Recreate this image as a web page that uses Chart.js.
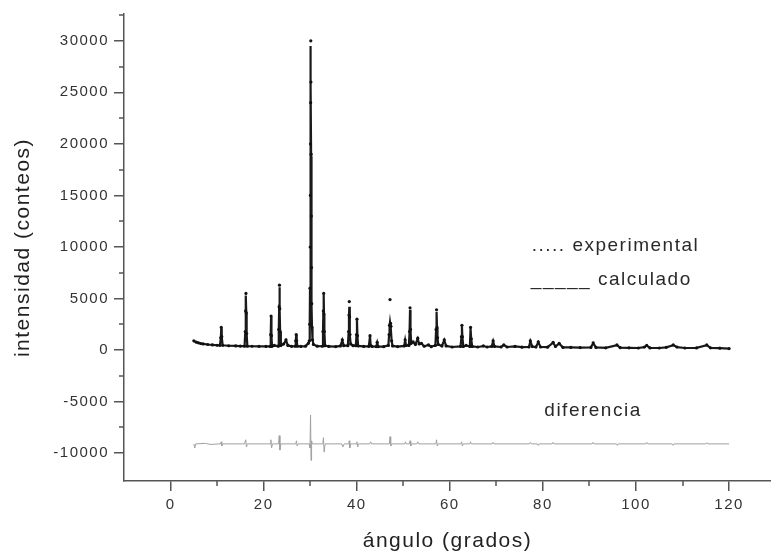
<!DOCTYPE html>
<html>
<head>
<meta charset="utf-8">
<script src="https://cdn.jsdelivr.net/npm/chart.js@4"></script>
<style>
  html, body { margin: 0; padding: 0; background: #fff; }
  #wrap { width: 771px; height: 554px; }
</style>
</head>
<body>
<div id="wrap"><canvas id="xrd-chart" width="771" height="554"></canvas></div>
<script>
// diffraction angle (2theta, degrees)
const angles = [
  5.0, 5.5, 6.0, 6.5, 7.0, 8.0, 9.0, 10.0,
  10.6, 10.8, 10.9, 11.0, 11.2,
  12.5, 14.0, 15.0, 15.9,
  16.05, 16.12, 16.2, 16.28, 16.35, 16.5,
  17.5, 19.0, 20.5, 21.4,
  21.52, 21.6, 21.68, 21.8,
  22.3, 23.1,
  23.25, 23.33, 23.4, 23.47, 23.55, 23.7,
  24.3, 24.8, 25.2, 26.0, 26.8,
  26.9, 27.0, 27.1, 27.25,
  28.0, 29.0, 29.6, 29.8, 29.9, 29.96,
  30.0, 30.04, 30.07, 30.1, 30.13, 30.16, 30.2, 30.24, 30.28, 30.33, 30.4, 30.5, 30.7,
  31.5, 32.6,
  32.75, 32.83, 32.9, 32.97, 33.05, 33.2,
  34.0, 35.5, 36.5, 36.9, 37.2, 38.1,
  38.25, 38.33, 38.4, 38.47, 38.55, 38.7,
  39.2, 39.8, 39.95, 40.05, 40.15, 40.3,
  41.5, 42.6, 42.85, 43.0, 43.3,
  44.2, 44.4, 44.6, 45.8, 46.8,
  46.95, 47.05, 47.15, 47.25, 47.35, 47.5, 47.7,
  48.8, 50.2, 50.4, 50.6, 51.2,
  51.35, 51.45, 51.55, 51.7,
  52.1, 52.6, 53.1, 53.4, 53.9, 54.5, 55.4, 56.0, 56.9,
  57.05, 57.15, 57.25, 57.35, 57.5,
  58.3, 58.8, 59.2, 60.5, 62.3,
  62.5, 62.6, 62.7, 62.9,
  63.5, 64.3, 64.45, 64.6, 64.8,
  66.0, 67.2, 68.0, 69.0, 69.3, 69.6,
  71.0, 71.6, 72.3, 74.0, 75.5, 77.0, 77.3, 77.7, 78.5, 79.0, 79.5,
  81.0, 82.2, 82.7, 83.5, 84.3, 86.0, 88.0,
  90.3, 90.8, 91.4, 93.5, 95.9, 96.6, 98.5, 100.5,
  101.8, 102.3, 103.0, 105.0, 106.5, 108.0, 108.8, 110.5,
  113.0, 115.2, 116.0, 118.0, 120.0
];

// measured counts (dots)
const experimental = [
  900, 780, 700, 640, 600, 540, 500, 470,
  460, 1200, 2200, 1300, 460,
  420, 400, 390, 380,
  1800, 3800, 5500, 3600, 1600, 380,
  370, 360, 350, 350,
  1500, 3300, 1400, 360,
  450, 380,
  2000, 4200, 6300, 4000, 1800, 450,
  600, 1000, 450, 360, 380,
  900, 1500, 900, 370,
  350, 380, 650, 900, 2500, 6000,
  10000, 15000, 20000, 24000, 30000, 26000, 19000, 13000, 8000, 4500, 2200, 1000, 550,
  380, 370,
  1800, 3800, 5500, 3500, 1800, 430,
  350, 340, 400, 1000, 430, 430,
  1800, 3400, 4700, 3200, 1500, 600,
  430, 430, 1500, 3000, 1400, 400,
  350, 360, 1400, 430, 350,
  340, 750, 340, 330, 450,
  1500, 2400, 4900, 2600, 2300, 900, 400,
  340, 400, 1000, 450, 450,
  1800, 4100, 2000, 650,
  800, 550, 1150, 600, 650, 370, 500, 330, 450,
  2000, 3900, 2200, 1200, 550,
  400, 1000, 400, 300, 350,
  1300, 2400, 1300, 350,
  450, 350, 2200, 1100, 350,
  300, 400, 300, 350, 900, 350,
  300, 500, 300, 350, 280, 300, 900, 350, 300, 800, 300,
  280, 750, 350, 650, 260, 260, 240,
  260, 700, 260, 220, 500, 230, 220, 200,
  300, 450, 210, 200, 270, 500, 300, 200,
  210, 500, 220, 180, 150
];

// refined profile (line)
const calculated = [
  880, 770, 700, 640, 600, 540, 500, 470,
  460, 1150, 2100, 1250, 460,
  420, 400, 390, 380,
  1700, 3700, 5300, 3500, 1550, 380,
  370, 360, 350, 350,
  1450, 3200, 1350, 360,
  440, 380,
  1900, 4000, 6100, 3900, 1750, 450,
  580, 950, 450, 360, 380,
  880, 1450, 880, 370,
  350, 380, 640, 880, 2400, 5800,
  9800, 14800, 19800, 23800, 29500, 25800, 18800, 12800, 7800, 4400, 2100, 980, 550,
  380, 370,
  1750, 3700, 5400, 3400, 1750, 430,
  350, 340, 400, 950, 430, 430,
  1700, 3100, 4200, 3000, 1450, 590,
  430, 430, 1450, 2900, 1350, 400,
  350, 360, 1350, 430, 350,
  340, 720, 340, 330, 450,
  1450, 2300, 2700, 2500, 2200, 880, 400,
  340, 400, 950, 450, 450,
  1750, 3900, 1950, 650,
  780, 550, 1100, 600, 630, 370, 490, 330, 450,
  1950, 3700, 2150, 1180, 550,
  400, 950, 400, 300, 350,
  1250, 2300, 1250, 350,
  440, 350, 2100, 1050, 350,
  300, 390, 300, 350, 850, 350,
  300, 480, 300, 350, 280, 300, 850, 350, 300, 760, 300,
  280, 720, 350, 620, 260, 260, 240,
  260, 660, 260, 220, 480, 230, 220, 200,
  290, 430, 210, 200, 260, 480, 290, 200,
  210, 480, 220, 180, 150
];

// difference curve, shown offset below the pattern
const diffAngles = [
  5.0, 5.2, 5.4, 7.5, 8.5,
  10.7, 10.9, 11.0, 11.2,
  15.9, 16.15, 16.3, 16.5,
  21.4, 21.55, 21.7, 21.9,
  23.2, 23.35, 23.5, 23.7,
  26.9, 27.05, 27.2, 27.4,
  29.8, 29.95, 30.08, 30.18, 30.3, 30.45,
  32.7, 32.85, 33.0, 33.2,
  36.8, 37.0, 37.3,
  38.3, 38.4, 38.5, 38.7,
  39.9, 40.05, 40.2, 40.4,
  42.8, 43.0, 43.2,
  47.0, 47.15, 47.3, 47.5,
  50.3, 50.45, 50.6,
  51.3, 51.45, 51.6, 51.8,
  52.9, 53.1, 53.3,
  57.0, 57.15, 57.3, 57.5,
  62.4, 62.55, 62.7, 62.9,
  64.3, 64.45, 64.6,
  69.1, 69.3, 69.5,
  77.1, 77.3, 77.5,
  78.8, 79.0, 79.2,
  82.0, 82.2, 82.4,
  90.6, 90.8, 91.0,
  95.8, 96.0, 96.2,
  102.1, 102.3, 102.5,
  107.8, 108.0, 108.2,
  115.0, 115.2, 115.4,
  120.0
];
const diffValues = [
  -9100, -9500, -9100, -9050, -9150,
  -9100, -8900, -9300, -9100,
  -9100, -8700, -9400, -9100,
  -9100, -8700, -9500, -9100,
  -9100, -8300, -9700, -9100,
  -9100, -8800, -9300, -9100,
  -9100, -9500, -6300, -10700, -8800, -9100,
  -9100, -8500, -9900, -9100,
  -9100, -9400, -9100,
  -9100, -8800, -9500, -9100,
  -9100, -8900, -9400, -9100,
  -9100, -8900, -9100,
  -9100, -8400, -9300, -9100,
  -9100, -8900, -9100,
  -9100, -8800, -9300, -9100,
  -9100, -8900, -9100,
  -9100, -8700, -9300, -9100,
  -9100, -8900, -9300, -9100,
  -9100, -8900, -9100,
  -9100, -8950, -9100,
  -9100, -8950, -9100,
  -9100, -9250, -9100,
  -9100, -8950, -9100,
  -9100, -8950, -9100,
  -9100, -9250, -9100,
  -9100, -8950, -9100,
  -9100, -9250, -9100,
  -9100, -8980, -9100,
  -9100
];

const xTicks = [0, 20, 40, 60, 80, 100, 120];
const yTicks = [-10000, -5000, 0, 5000, 10000, 15000, 20000, 25000, 30000];
const xMinor = [10, 30, 50, 70, 90, 110];
const yMinor = [-7500, -2500, 2500, 7500, 12500, 17500, 22500, 27500, 32500];

const FONT = '"Liberation Sans", Arial, Helvetica, sans-serif';
const SPACING = '1.5px';

const expPoints = angles.map((a, i) => ({ x: a, y: experimental[i] }));
const calcPoints = angles.map((a, i) => ({ x: a, y: calculated[i] }));
const diffPoints = diffAngles.map((a, i) => ({ x: a, y: diffValues[i] }));

// the original's lettering is loosely spaced
const letterSpacing = {
  id: 'letterSpacing',
  beforeUpdate(chart) { chart.ctx.letterSpacing = SPACING; },
  beforeDraw(chart) { chart.ctx.letterSpacing = SPACING; }
};

// small in-between ticks + the text notes inside the plot
const extras = {
  id: 'extras',
  afterDraw(chart) {
    const { ctx, chartArea } = chart;
    const xs = chart.scales.x, ys = chart.scales.y;
    ctx.save();
    ctx.strokeStyle = '#555';
    ctx.lineWidth = 1.5;
    ctx.beginPath();
    xMinor.forEach(v => {
      const px = Math.round(xs.getPixelForValue(v));
      ctx.moveTo(px, chartArea.bottom);
      ctx.lineTo(px, chartArea.bottom + 5);
    });
    yMinor.forEach(v => {
      const py = Math.round(ys.getPixelForValue(v));
      ctx.moveTo(chartArea.left - 5, py);
      ctx.lineTo(chartArea.left, py);
    });
    ctx.stroke();

    ctx.letterSpacing = SPACING;
    ctx.fillStyle = '#2a2a2a';
    ctx.font = '19px ' + FONT;
    ctx.textAlign = 'left';
    ctx.textBaseline = 'alphabetic';
    ctx.fillText('..... experimental', xs.getPixelForValue(77.6), ys.getPixelForValue(9600));
    ctx.fillText('_____ calculado', xs.getPixelForValue(77.4), ys.getPixelForValue(6300));
    ctx.fillText('diferencia', xs.getPixelForValue(80.3), ys.getPixelForValue(-6400));
    ctx.restore();
  }
};

new Chart(document.getElementById('xrd-chart'), {
  type: 'scatter',
  data: {
    datasets: [
      {
        label: 'experimental',
        data: expPoints,
        showLine: false,
        pointRadius: 1.6,
        pointBorderWidth: 0,
        pointBackgroundColor: '#111',
        order: 0
      },
      {
        label: 'calculado',
        data: calcPoints,
        showLine: true,
        pointRadius: 0,
        borderColor: '#1a1a1a',
        borderWidth: 2.2,
        order: 1
      },
      {
        label: 'diferencia',
        data: diffPoints,
        showLine: true,
        pointRadius: 0,
        borderColor: '#a0a0a0',
        borderWidth: 1,
        order: 2
      }
    ]
  },
  options: {
    responsive: false,
    animation: false,
    layout: { autoPadding: false, padding: { top: 14, right: 0, bottom: 0, left: 0 } },
    plugins: {
      legend: { display: false },
      tooltip: { enabled: false }
    },
    scales: {
      x: {
        type: 'linear',
        position: 'bottom',
        min: -10,
        max: 129,
        afterBuildTicks: s => { s.ticks = xTicks.map(v => ({ value: v })); },
        afterFit: s => { s.height = 73; s.paddingLeft = 0; s.paddingRight = 0; },
        grid: { drawOnChartArea: false, drawTicks: true, tickLength: 10, color: '#555', lineWidth: 1.5 },
        border: { display: true, color: '#555', width: 1.5 },
        ticks: {
          padding: 5,
          color: '#333',
          font: { family: FONT, size: 15 },
          callback: v => String(v)
        },
        title: {
          display: true,
          text: 'ángulo (grados)',
          color: '#222',
          font: { family: FONT, size: 21 },
          padding: { top: 0, bottom: 0 }
        }
      },
      y: {
        type: 'linear',
        min: -12700,
        max: 32600,
        afterBuildTicks: s => { s.ticks = yTicks.map(v => ({ value: v })); },
        afterFit: s => { s.width = 124; },
        grid: { drawOnChartArea: false, drawTicks: true, tickLength: 10, color: '#555', lineWidth: 1.5 },
        border: { display: true, color: '#555', width: 1.5 },
        ticks: {
          padding: 5,
          color: '#333',
          font: { family: FONT, size: 15 },
          callback: v => String(v)
        },
        title: {
          display: true,
          text: 'intensidad (conteos)',
          color: '#222',
          font: { family: FONT, size: 21 },
          padding: { top: 11, bottom: 0 }
        }
      }
    }
  },
  plugins: [letterSpacing, extras]
});
</script>
</body>
</html>
